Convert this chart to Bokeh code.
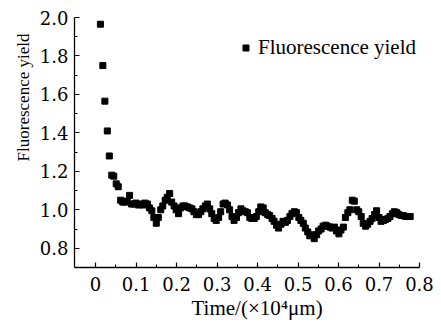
import numpy as np
from bokeh.plotting import figure
from bokeh.models import (Range1d, FixedTicker, Legend, LegendItem, Title,
                          ColumnDataSource, PrintfTickFormatter)
from bokeh.embed import file_html
from bokeh.resources import INLINE

time_x = [0.012, 0.018, 0.023, 0.029, 0.034, 0.040, 0.045, 0.051, 0.056, 0.062,
          0.067, 0.073, 0.078, 0.084, 0.089, 0.095, 0.100, 0.106, 0.111, 0.117,
          0.122, 0.128, 0.133, 0.139, 0.144, 0.150, 0.155, 0.161, 0.166, 0.172,
          0.177, 0.183, 0.188, 0.194, 0.199, 0.205, 0.210, 0.216, 0.221, 0.227,
          0.232, 0.238, 0.243, 0.249, 0.254, 0.260, 0.265, 0.271, 0.276, 0.282,
          0.287, 0.293, 0.298, 0.304, 0.309, 0.315, 0.320, 0.326, 0.331, 0.337,
          0.342, 0.348, 0.353, 0.359, 0.364, 0.370, 0.375, 0.381, 0.386, 0.392,
          0.397, 0.403, 0.408, 0.414, 0.419, 0.425, 0.430, 0.436, 0.441, 0.447,
          0.452, 0.458, 0.463, 0.469, 0.474, 0.480, 0.485, 0.491, 0.496, 0.502,
          0.507, 0.513, 0.518, 0.524, 0.529, 0.535, 0.540, 0.546, 0.551, 0.557,
          0.562, 0.568, 0.573, 0.579, 0.584, 0.590, 0.595, 0.601, 0.606, 0.612,
          0.617, 0.623, 0.628, 0.634, 0.639, 0.645, 0.650, 0.656, 0.661, 0.667,
          0.672, 0.678, 0.683, 0.689, 0.694, 0.700, 0.705, 0.711, 0.716, 0.722,
          0.727, 0.733, 0.738, 0.744, 0.749, 0.755, 0.760, 0.766, 0.771, 0.777]

fluorescence_yield = [1.965, 1.75, 1.565, 1.41, 1.28, 1.18, 1.175, 1.135, 1.12, 1.05,
                      1.04, 1.04, 1.045, 1.075, 1.03, 1.03, 1.035, 1.025, 1.03, 1.025,
                      1.035, 1.03, 1.01, 0.995, 0.96, 0.93, 0.96, 1.00, 1.02, 1.05,
                      1.065, 1.085, 1.04, 1.02, 1.00, 0.98, 1.01, 1.02, 1.02, 1.015,
                      1.01, 1.005, 0.99, 0.975, 0.975, 0.99, 1.005, 1.02, 1.03, 1.005,
                      0.98, 0.955, 0.945, 0.96, 0.99, 1.03, 1.035, 1.025, 1.00, 0.965,
                      0.945, 0.96, 0.985, 1.005, 0.995, 0.99, 0.985, 0.96, 0.955, 0.955,
                      0.965, 0.99, 1.015, 1.01, 0.985, 0.975, 0.97, 0.955, 0.94, 0.92,
                      0.905, 0.925, 0.94, 0.935, 0.945, 0.965, 0.98, 0.99, 0.985, 0.96,
                      0.945, 0.93, 0.905, 0.885, 0.865, 0.87, 0.85, 0.87, 0.89, 0.90,
                      0.915, 0.92, 0.915, 0.91, 0.905, 0.91, 0.89, 0.875, 0.895, 0.91,
                      0.96, 0.985, 1.00, 1.05, 1.045, 1.00, 0.99, 0.965, 0.93, 0.915,
                      0.925, 0.94, 0.955, 0.975, 0.995, 0.96, 0.94, 0.945, 0.95, 0.955,
                      0.965, 0.98, 0.99, 0.985, 0.975, 0.97, 0.97, 0.965, 0.965, 0.965]

x_ticks = [0, 0.1, 0.2, 0.3, 0.4, 0.5, 0.6, 0.7, 0.8]
x_minor = [0.05, 0.15, 0.25, 0.35, 0.45, 0.55, 0.65, 0.75]
y_ticks = [0.8, 1.0, 1.2, 1.4, 1.6, 1.8, 2.0]
y_minor = [0.9, 1.1, 1.3, 1.5, 1.7, 1.9]

FONT = "'Liberation Serif', 'Times New Roman', serif"

p = figure(frame_width=345, frame_height=250,
           x_range=Range1d(-0.052, 0.8), y_range=Range1d(0.7, 2.0),
           output_backend="svg", toolbar_location=None,
           min_border_left=74, min_border_right=22, min_border_top=17, min_border_bottom=56)
p.outline_line_color = None
p.xgrid.visible = False
p.ygrid.visible = False
p.background_fill_color = "white"
p.border_fill_color = "white"

src = ColumnDataSource(dict(x=time_x, y=fluorescence_yield))
r = p.scatter("x", "y", source=src, marker="square", size=6, color="black")

p.xaxis.major_label_text_font = "DejaVu Serif"
p.yaxis.major_label_text_font = "DejaVu Serif"
p.xaxis.major_label_text_font_style = "normal"
p.yaxis.major_label_text_font_style = "normal"

for ax in (p.xaxis[0], p.yaxis[0]):
    ax.axis_line_width = 1.3
    ax.axis_line_color = "black"
    ax.major_tick_in = 5
    ax.major_tick_out = 0
    ax.minor_tick_in = 3
    ax.minor_tick_out = 0
    ax.major_tick_line_color = "black"
    ax.minor_tick_line_color = "black"
    ax.major_tick_line_width = 1.2
    ax.major_label_text_font_size = "18px"
    ax.major_label_text_color = "black"

p.xaxis[0].ticker = FixedTicker(ticks=x_ticks, minor_ticks=x_minor)
p.yaxis[0].ticker = FixedTicker(ticks=y_ticks, minor_ticks=y_minor)
p.yaxis[0].formatter = PrintfTickFormatter(format="%.1f")
p.xaxis[0].major_label_overrides = {0: "0"}
p.xaxis[0].major_label_standoff = 9
p.yaxis[0].major_label_standoff = 6

xtitle = Title(text="Time/(\u00d710\u2074\u03bcm)", align="left", offset=117,
               text_font=FONT, text_font_size="21px", text_font_style="normal",
               text_color="black", standoff=0)
p.add_layout(xtitle, "below")

ytitle = Title(text="Fluorescence yield", align="right", offset=16,
               text_font=FONT, text_font_size="17px", text_font_style="normal",
               text_color="black", standoff=8)
p.add_layout(ytitle, "left")

legend = Legend(items=[LegendItem(label="Fluorescence yield", renderers=[r])],
                location=(164, 207), glyph_width=15, glyph_height=15,
                label_standoff=5, padding=0, margin=0, spacing=0,
                label_text_font=FONT, label_text_font_size="21px",
                label_text_color="black", border_line_color=None,
                background_fill_alpha=0)
p.add_layout(legend, "center")

open("out.html", "w").write(file_html(p, INLINE))
